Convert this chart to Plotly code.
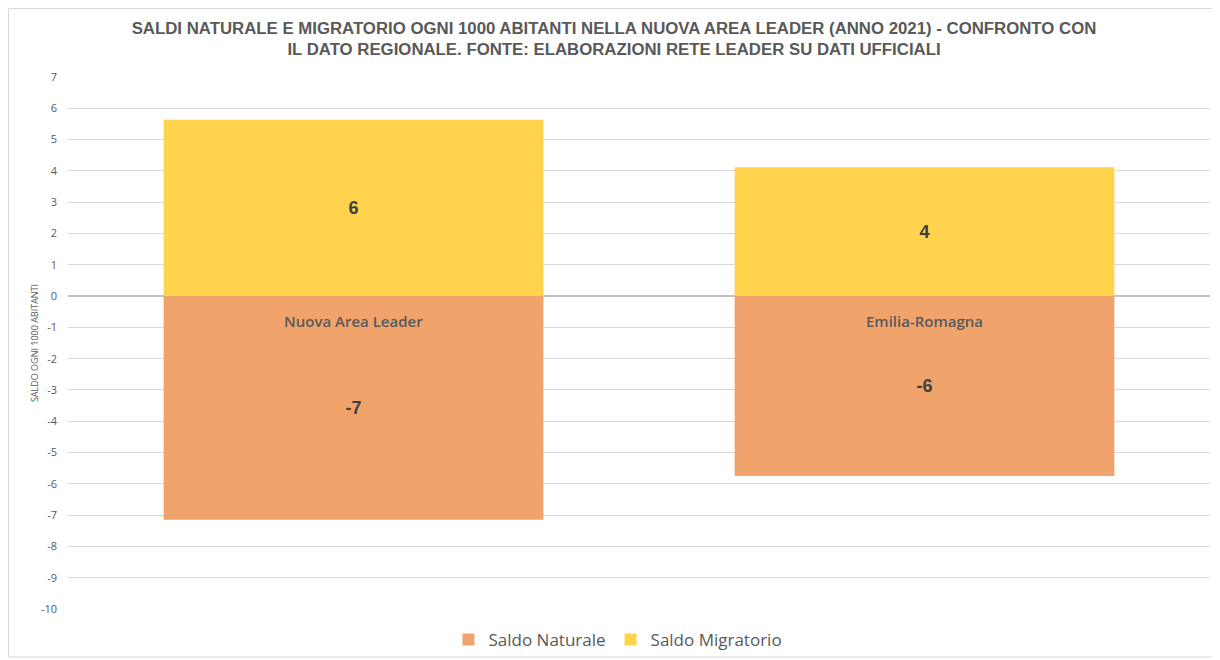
import plotly.graph_objects as go

categories = ["Nuova Area Leader", "Emilia-Romagna"]
saldo_naturale = [-7.15, -5.75]
saldo_migratorio = [5.63, 4.12]
y_ticks = list(range(-10, 8))

title_text = ("SALDI NATURALE E MIGRATORIO OGNI 1000 ABITANTI NELLA NUOVA AREA LEADER (ANNO 2021) - CONFRONTO CON<br>"
              "IL DATO REGIONALE. FONTE: ELABORAZIONI RETE LEADER SU DATI UFFICIALI")

W, H = 1212, 652

fig = go.Figure()
fig.add_trace(go.Bar(
    x=categories, y=saldo_naturale, name="Saldo Naturale",
    marker=dict(color="#F0A46C", line=dict(width=0)),
    text=[f"{v:.0f}" for v in saldo_naturale], textposition="inside",
    insidetextanchor="middle",
    textfont=dict(size=18, color="#404040", family="Liberation Sans, Arial, sans-serif", weight="bold"),
    width=0.665,
))
fig.add_trace(go.Bar(
    x=categories, y=saldo_migratorio, name="Saldo Migratorio",
    marker=dict(color="#FFD34B", line=dict(width=0)),
    text=[f"{v:.0f}" for v in saldo_migratorio], textposition="inside",
    insidetextanchor="middle",
    textfont=dict(size=18, color="#404040", family="Liberation Sans, Arial, sans-serif", weight="bold"),
    width=0.665,
))

for c in categories:
    fig.add_annotation(x=c, y=0, yshift=-25, text=c, showarrow=False,
                       font=dict(size=15, color="#595959", family="Open Sans, sans-serif", weight=600))

fig.add_shape(type="rect", xref="paper", yref="paper",
              x0=-0.0521, x1=1.0053, y0=-0.0902, y1=1.1288,
              line=dict(color="#D9D9D9", width=1), layer="below")

fig.update_layout(
    width=W, height=H,
    barmode="relative",
    paper_bgcolor="white", plot_bgcolor="white",
    margin=dict(l=60, r=10, t=69, b=51, autoexpand=False),
    title=dict(text=title_text, x=0.5, xanchor="center", y=1 - 25.5 / H, yanchor="middle",
               font=dict(size=16.8, color="#595959", family="Liberation Sans Narrow, Liberation Sans, Arial, sans-serif", weight="bold")),
    showlegend=True,
    legend=dict(orientation="h", x=0.4816, xanchor="center", y=-0.058, yanchor="middle",
                bgcolor="rgba(0,0,0,0)",
                font=dict(size=17, color="#595959", family="Open Sans, sans-serif"),
                traceorder="normal", itemsizing="constant"),
    uniformtext=dict(mode="show", minsize=10),
)
fig.update_xaxes(showticklabels=False, showgrid=False, zeroline=False, showline=False)
fig.update_yaxes(range=[-10, 7], tickvals=y_ticks, ticktext=[str(v) for v in y_ticks],
                 showgrid=True, gridcolor="#D9D9D9", gridwidth=1,
                 zeroline=True, zerolinecolor="#BFBFBF", zerolinewidth=2,
                 tickfont=dict(size=11, color="#595959", family="Open Sans, sans-serif"),
                 ticks="", ticklabelstandoff=10,
                 title=dict(text="SALDO OGNI 1000 ABITANTI", standoff=0,
                            font=dict(size=9, color="#595959", family="Open Sans, sans-serif")))

fig.write_html("out.html")
